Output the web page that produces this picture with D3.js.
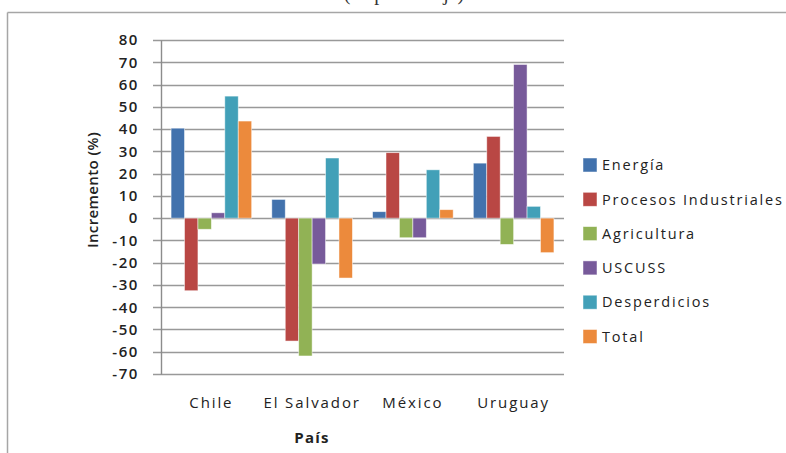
<!DOCTYPE html>
<html><head><meta charset="utf-8">
<script src="https://cdn.jsdelivr.net/npm/d3@7/dist/d3.min.js"></script>
<style>body{margin:0;background:#fff;overflow:hidden}svg{display:block}</style>
</head><body>
<svg id="c" width="786" height="453"></svg>
<script>
const countries = ["Chile", "El Salvador", "México", "Uruguay"];
const seriesNames = ["Energía", "Procesos Industriales", "Agricultura", "USCUSS", "Desperdicios", "Total"];
const energia = [40.4, 8.4, 2.9, 24.7];
const procesos = [-32.6, -55.2, 29.4, 36.7];
const agricultura = [-5.0, -61.9, -8.8, -11.8];
const uscuss = [2.4, -20.6, -8.8, 69.0];
const desperdicios = [54.8, 27.0, 21.7, 5.3];
const total = [43.6, -26.9, 3.8, -15.5];
const seriesValues = [energia, procesos, agricultura, uscuss, desperdicios, total];
const colors = ["#4272AD", "#B94744", "#91B255", "#775A9A", "#42A0B8", "#EC8A3C"];
const yTicks = [80, 70, 60, 50, 40, 30, 20, 10, 0, -10, -20, -30, -40, -50, -60, -70];

const svg = d3.select("#c");
const font = "'Open Sans', 'Noto Sans', sans-serif";

// outer frame (partially visible)
svg.append("line").attr("x1", 7.5).attr("x2", 786).attr("y1", 12.5).attr("y2", 12.5).attr("stroke", "#a6a6a6").attr("stroke-width", 1.5);
svg.append("line").attr("x1", 7.5).attr("x2", 7.5).attr("y1", 12.5).attr("y2", 453).attr("stroke", "#a6a6a6").attr("stroke-width", 1.5);
svg.append("text").attr("x", 404).attr("y", 0).attr("text-anchor", "middle")
  .attr("font-family", "'Liberation Serif', serif").attr("font-size", 20).attr("fill", "#333")
  .text("(en porcentaje)");

const left = 161, right = 564;
const y = d3.scaleLinear().domain([-70, 80]).range([374, 40]);
const x0 = d3.scaleBand().domain(countries).range([left, right]).paddingInner(0.2).paddingOuter(0.1);
const x1 = d3.scaleBand().domain(seriesNames).range([0, x0.bandwidth()]);

// gridlines
svg.append("g").selectAll("line").data(yTicks).join("line")
  .attr("x1", left - 8).attr("x2", right)
  .attr("y1", d => Math.round(y(d)) + 0.5).attr("y2", d => Math.round(y(d)) + 0.5)
  .attr("stroke", "#999").attr("stroke-width", 1.4);

// y axis
const yAxis = d3.axisLeft(y).tickValues(yTicks).tickSize(0).tickPadding(22).tickFormat(d => String(d));
const gy = svg.append("g").attr("transform", `translate(${left},0)`).call(yAxis);
gy.select(".domain").attr("stroke", "#8c8c8c").attr("stroke-width", 1.4);
gy.selectAll("text").attr("font-family", font).attr("font-size", 15).attr("fill", "#222")
  .attr("font-weight", 600).attr("letter-spacing", 1.6);

// bars
const groups = svg.append("g").selectAll("g").data(countries).join("g")
  .attr("transform", d => `translate(${x0(d)},0)`);
groups.selectAll("rect").data((c, ci) => seriesNames.map((s, si) => ({s, si, v: seriesValues[si][ci]}))).join("rect")
  .attr("x", d => x1(d.s))
  .attr("width", x1.bandwidth())
  .attr("y", d => y(Math.max(0, d.v)))
  .attr("height", d => Math.abs(y(d.v) - y(0)))
  .attr("fill", d => colors[d.si])
  .attr("stroke", "#ffffff").attr("stroke-opacity", 0.6).attr("stroke-width", 0.8);

// category labels
const xAxis = d3.axisBottom(x0).tickSize(0).tickPadding(0);
const gx = svg.append("g").attr("transform", "translate(0,394)").call(xAxis);
gx.select(".domain").remove();
gx.selectAll("text").attr("font-family", font).attr("font-size", 15).attr("fill", "#222")
  .attr("dy", "0.9em").attr("letter-spacing", 1.9);

// axis titles
svg.append("text").attr("x", 312).attr("y", 443).attr("text-anchor", "middle")
  .attr("font-family", font).attr("font-size", 15).attr("font-weight", 700).attr("fill", "#222")
  .attr("letter-spacing", 1.2).text("País");
svg.append("text").attr("transform", "translate(98,190) rotate(-90)").attr("text-anchor", "middle")
  .attr("font-family", font).attr("font-size", 15).attr("font-weight", 600).attr("fill", "#222")
  .attr("letter-spacing", 0.4).text("Incremento (%)");

// legend
const leg = svg.append("g").selectAll("g").data(seriesNames).join("g")
  .attr("transform", (d, i) => `translate(583,${158 + i * 34.3})`);
leg.append("rect").attr("width", 14).attr("height", 14).attr("fill", (d, i) => colors[i])
  .attr("stroke", "#fff").attr("stroke-opacity", 0.6).attr("stroke-width", 0.8);
leg.append("text").attr("x", 19).attr("y", 7).attr("dy", "0.36em")
  .attr("font-family", font).attr("font-size", 14.5).attr("fill", "#222").attr("letter-spacing", 1.8)
  .text(d => d);
</script>
</body></html>
